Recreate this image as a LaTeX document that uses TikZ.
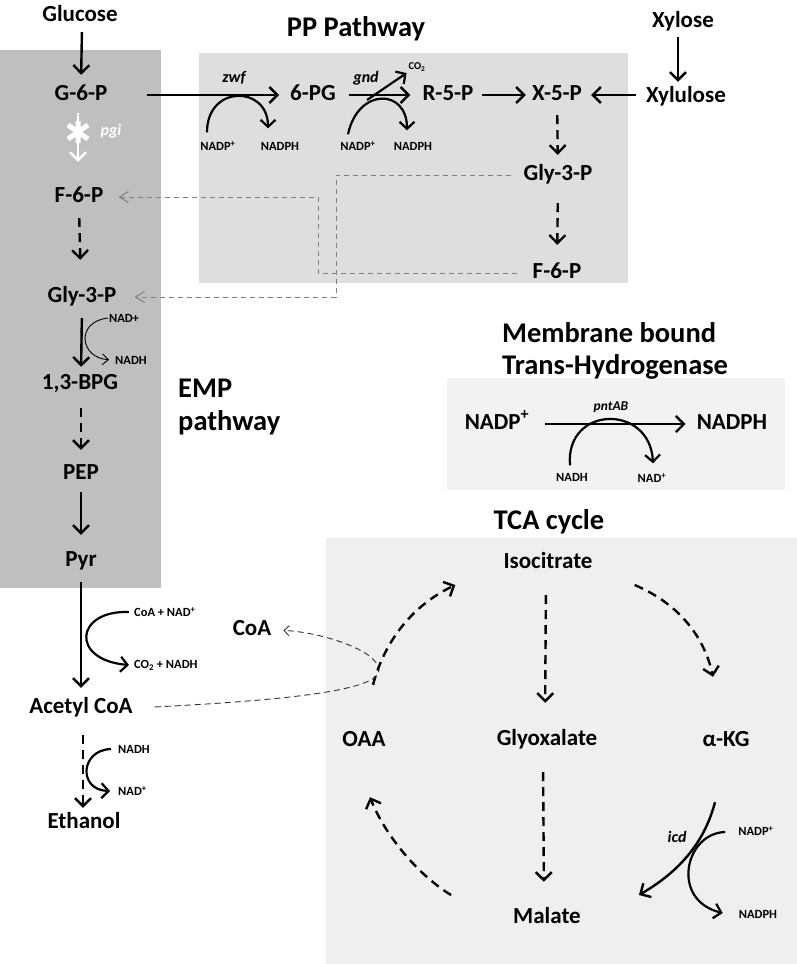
\documentclass[tikz,border=0pt]{standalone}
\usepackage{fontspec}
\setmainfont{Carlito}
\usetikzlibrary{arrows.meta,calc}
\definecolor{empgray}{HTML}{BFBFBF}
\definecolor{ppgray}{HTML}{DEDEDE}
\definecolor{thgray}{HTML}{F2F2F2}
\definecolor{tcagray}{HTML}{EFEFEF}
\definecolor{lnkgray}{HTML}{808080}
\begin{document}
\begin{tikzpicture}[x=1pt,y=-1pt,
  lbl/.style={font=\bfseries\fontsize{23}{26}\selectfont, inner sep=2pt, text height=14pt, text depth=4pt},
  ttl/.style={font=\bfseries\fontsize{28.5}{32}\selectfont, inner sep=0pt},
  sm/.style={font=\bfseries\fontsize{12.5}{14}\selectfont, inner sep=1pt, text height=9pt, text depth=2pt},
  xs/.style={font=\bfseries\fontsize{12.5}{14}\selectfont, inner sep=1pt},
  tiny/.style={font=\bfseries\fontsize{10.5}{12}\selectfont, inner sep=1pt},
  enz/.style={font=\bfseries\itshape\fontsize{16}{18}\selectfont, inner sep=1pt},
  enzs/.style={font=\bfseries\itshape\fontsize{13.5}{15}\selectfont, inner sep=1pt},
  arr/.style={line width=2.4pt, -{Straight Barb[length=8pt,width=16pt]}},
  dsh/.style={arr, dash pattern=on 9pt off 6pt},
  carr/.style={line width=2.2pt, -{Straight Barb[length=7pt,width=15pt]}},
  warr/.style={arr, white},
  gdash/.style={draw=lnkgray, line width=1pt, dash pattern=on 5pt off 4pt, -{Straight Barb[length=9pt,width=11pt]}},
  tdash/.style={draw=black!80, line width=0.9pt, dash pattern=on 6pt off 4pt, -{Straight Barb[length=5pt,width=10pt]}},
  nadarr/.style={line width=0.9pt, -{Straight Barb[length=6pt,width=11pt]}}
]
\useasboundingbox (0,0) rectangle (797,964);
% background panels
\fill[empgray] (0,50) rectangle (161,588);
\fill[ppgray] (199,53) rectangle (628,283);
\fill[thgray] (447,378) rectangle (785,490);
\fill[tcagray] (326,538) rectangle (797,964);

% titles
\node[ttl] (pptitle) at (356,29) {PP Pathway};
\node[ttl, anchor=base west] (emp1) at (178,397) {EMP};
\node[ttl, anchor=base west] (emp2) at (178,430) {pathway};
\node[ttl, anchor=base west] (th1) at (502,342) {Membrane bound};
\node[ttl, anchor=base west] (th2) at (502,374) {Trans-Hydrogenase};
\node[ttl] (tcatitle) at (549,522) {TCA cycle};

% EMP column
\node[lbl] (glucose) at (80,16) {Glucose};
\node[lbl] (g6p) at (81,95) {G-6-P};
\node[lbl] (f6p) at (79,197) {F-6-P};
\node[lbl] (gly3p) at (82,297) {Gly-3-P};
\node[lbl] (bpg) at (80,384) {1,3-BPG};
\node[lbl] (pep) at (81,474) {PEP};
\node[lbl] (pyr) at (81,561) {Pyr};
\node[lbl] (acoa) at (81,708) {Acetyl CoA};
\node[lbl] (etoh) at (84,823) {Ethanol};
\node[lbl] (coa) at (252,630) {CoA};

% PP row
\node[lbl] (pg6) at (313,95) {6-PG};
\node[lbl] (r5p) at (448,95) {R-5-P};
\node[lbl] (x5p) at (557,95) {X-5-P};
\node[lbl] (xylulose) at (686,97) {Xylulose};
\node[lbl] (xylose) at (683,22) {Xylose};
\node[lbl] (gly3pB) at (558,175) {Gly-3-P};
\node[lbl] (f6pB) at (557,273) {F-6-P};

% small labels PP
\node[sm] (nadp1) at (218,147) {NADP\textsuperscript{+}};
\node[sm] (nadph1) at (280,147) {NADPH};
\node[sm] (nadp2) at (358,147) {NADP\textsuperscript{+}};
\node[sm] (nadph2) at (413,147) {NADPH};
\node[tiny] (co2) at (417,67) {CO\textsubscript{2}};
\node[enz] (zwf) at (234,78) {zwf};
\node[enz] (gnd) at (366,78) {gnd};
\node[enz, white] (pgi) at (111,131) {pgi};

% small labels EMP
\node[xs] (nadA) at (124,318) {NAD+};
\node[xs] (nadhA) at (131,360) {NADH};
\node[xs, anchor=west] (coanad) at (133,612) {CoA + NAD\textsuperscript{+}};
\node[xs, anchor=west] (co2nadh) at (133,665) {CO\textsubscript{2} + NADH};
\node[xs, anchor=west] (nadhE) at (117,749) {NADH};
\node[xs, anchor=west] (nadE) at (117,791) {NAD\textsuperscript{+}};

% transhydrogenase
\node[lbl] (nadpT) at (497,424) {NADP\textsuperscript{+}};
\node[lbl] (nadphT) at (732,424) {NADPH};
\node[enzs] (pntab) at (611,407) {pntAB};
\node[sm] (nadhT) at (572,478) {NADH};
\node[sm] (nadT) at (652,479) {NAD\textsuperscript{+}};

% TCA
\node[lbl] (iso) at (548,563) {Isocitrate};
\node[lbl] (glyox) at (547,740) {Glyoxalate};
\node[lbl] (oaa) at (364,741) {OAA};
\node[lbl] (akg) at (726,741) {α-KG};
\node[lbl] (malate) at (547,918) {Malate};
\node[enz] (icd) at (677,837) {icd};
\node[sm] (nadpI) at (756,832) {NADP\textsuperscript{+}};
\node[sm] (nadphI) at (758,915) {NADPH};

% ---------- EMP connectors
\draw[arr, shorten <=5pt, shorten >=9pt] ([xshift=2pt]glucose.south) -- (g6p.north);
\draw[warr, shorten <=7pt, shorten >=24pt] ([xshift=-3pt]g6p.south) -- ([xshift=-1pt]f6p.north);
\draw[white, line width=5pt] (68,125) -- (88,139) (68,139) -- (88,125) (78,121) -- (78,143);
\draw[dsh, shorten <=10pt, shorten >=26pt] (f6p.south) -- ([xshift=-1pt]gly3p.north);
\draw[arr, shorten <=10pt, shorten >=6pt] (gly3p.south) -- ([xshift=1pt]bpg.north);
\draw[nadarr, shorten >=5pt] (nadA.west) .. controls (75,322) and (80,358) .. (nadhA.west);
\draw[dsh, shorten <=13pt, shorten >=13pt] ([xshift=1pt]bpg.south) -- (pep.north);
\draw[arr, shorten <=7pt, shorten >=15pt] (pep) -- (pyr);
\draw[arr, shorten <=10pt, shorten >=9pt] (pyr) -- (acoa);
\draw[carr] ([xshift=-4pt]coanad.west) .. controls (75,610) and (70,660) .. ([xshift=-4pt]co2nadh.west);
\draw[dsh, shorten <=16pt, shorten >=4pt] ([xshift=2pt]acoa.south) -- ([xshift=-1pt]etoh.north);
\draw[carr] ([xshift=-6pt]nadhE.west) .. controls (80,750) and (78,790) .. ([xshift=-7pt]nadE.west);
\draw[tdash, shorten <=20pt, shorten >=10pt] (acoa.east) .. controls (290,700) and (380,690) .. (379,670) .. controls (378,650) and (320,632) .. (coa.east);

% ---------- PP connectors
\draw[arr, shorten <=37pt, shorten >=9pt] (g6p) -- (pg6);
\draw[carr] ([xshift=-11pt,yshift=8pt]nadp1.north) .. controls +(0,-48) and +(0,-43) .. ([xshift=-12pt,yshift=12pt]nadph1.north);
\draw[arr, shorten <=11pt, shorten >=10pt] (pg6) -- (r5p);
\draw[carr] ([xshift=-10pt,yshift=6pt]nadp2.north) .. controls +(10,-47) and +(0,-42) .. ([xshift=-6pt,yshift=10pt]nadph2.north);
\coordinate (gndb) at (367,100);
\draw[carr, shorten >=1pt] (gndb) -- (co2.south west);
\draw[arr, shorten <=6pt, shorten >=4pt] (r5p) -- (x5p);
\draw[arr, shorten <=8pt, shorten >=7pt] (xylulose.west |- x5p) -- (x5p);
\draw[arr, shorten <=4pt, shorten >=4pt] ([xshift=-5pt]xylose.south) -- ([xshift=-8pt]xylulose.north);
\draw[dsh, shorten <=9pt, shorten >=9pt] (x5p) -- (gly3pB);
\draw[dsh, shorten <=17pt, shorten >=17pt] (gly3pB.south) -- (f6pB.north);
\draw[gdash, shorten <=10pt, shorten >=16pt] (gly3pB.west) -| (336,297) -- (gly3p.east);
\draw[gdash, shorten <=14pt, shorten >=13pt] (f6pB.west) -| (318,197) -- (f6p.east);

% ---------- transhydrogenase
\draw[arr, shorten <=14pt, shorten >=9pt] (nadpT) -- (nadphT);
\draw[carr] ([xshift=-2pt,yshift=6pt]nadhT.north) .. controls +(-5,-60) and +(-3,-60) .. ([xshift=1pt,yshift=9pt]nadT.north);

% ---------- TCA
\draw[dsh, shorten <=21pt, shorten >=26pt] ([xshift=-2pt]iso.south) -- ([xshift=-2pt]glyox.north);
\draw[dsh, shorten <=21pt, shorten >=25pt] ([xshift=-4pt]glyox.south) -- ([xshift=-3pt]malate.north);
\draw[dsh] ($(iso.east)+(40,22)$) .. controls +(47,20) and +(-8,-37) .. ($(akg.north)+(-13,-53)$);
\draw[dsh] ($(oaa.north)+(9,-45)$) .. controls +(12,-45) and +(-42,20) .. ($(iso.west)+(-46,22)$);
\draw[dsh] ($(malate.west)+(-60,-23)$) .. controls +(-33,-20) and +(15,38) .. ($(oaa.south)+(6,45)$);
\draw[arr] ($(akg.south)+(-11,50)$) .. controls +(-10,38) and +(43,-25) .. ($(malate.east)+(56,-23)$);
\draw[carr] ($(nadpI.west)+(-12,0)$) .. controls (685,833) and (670,900) .. ($(nadphI.west)+(-15,-2)$);
\end{tikzpicture}
\end{document}
